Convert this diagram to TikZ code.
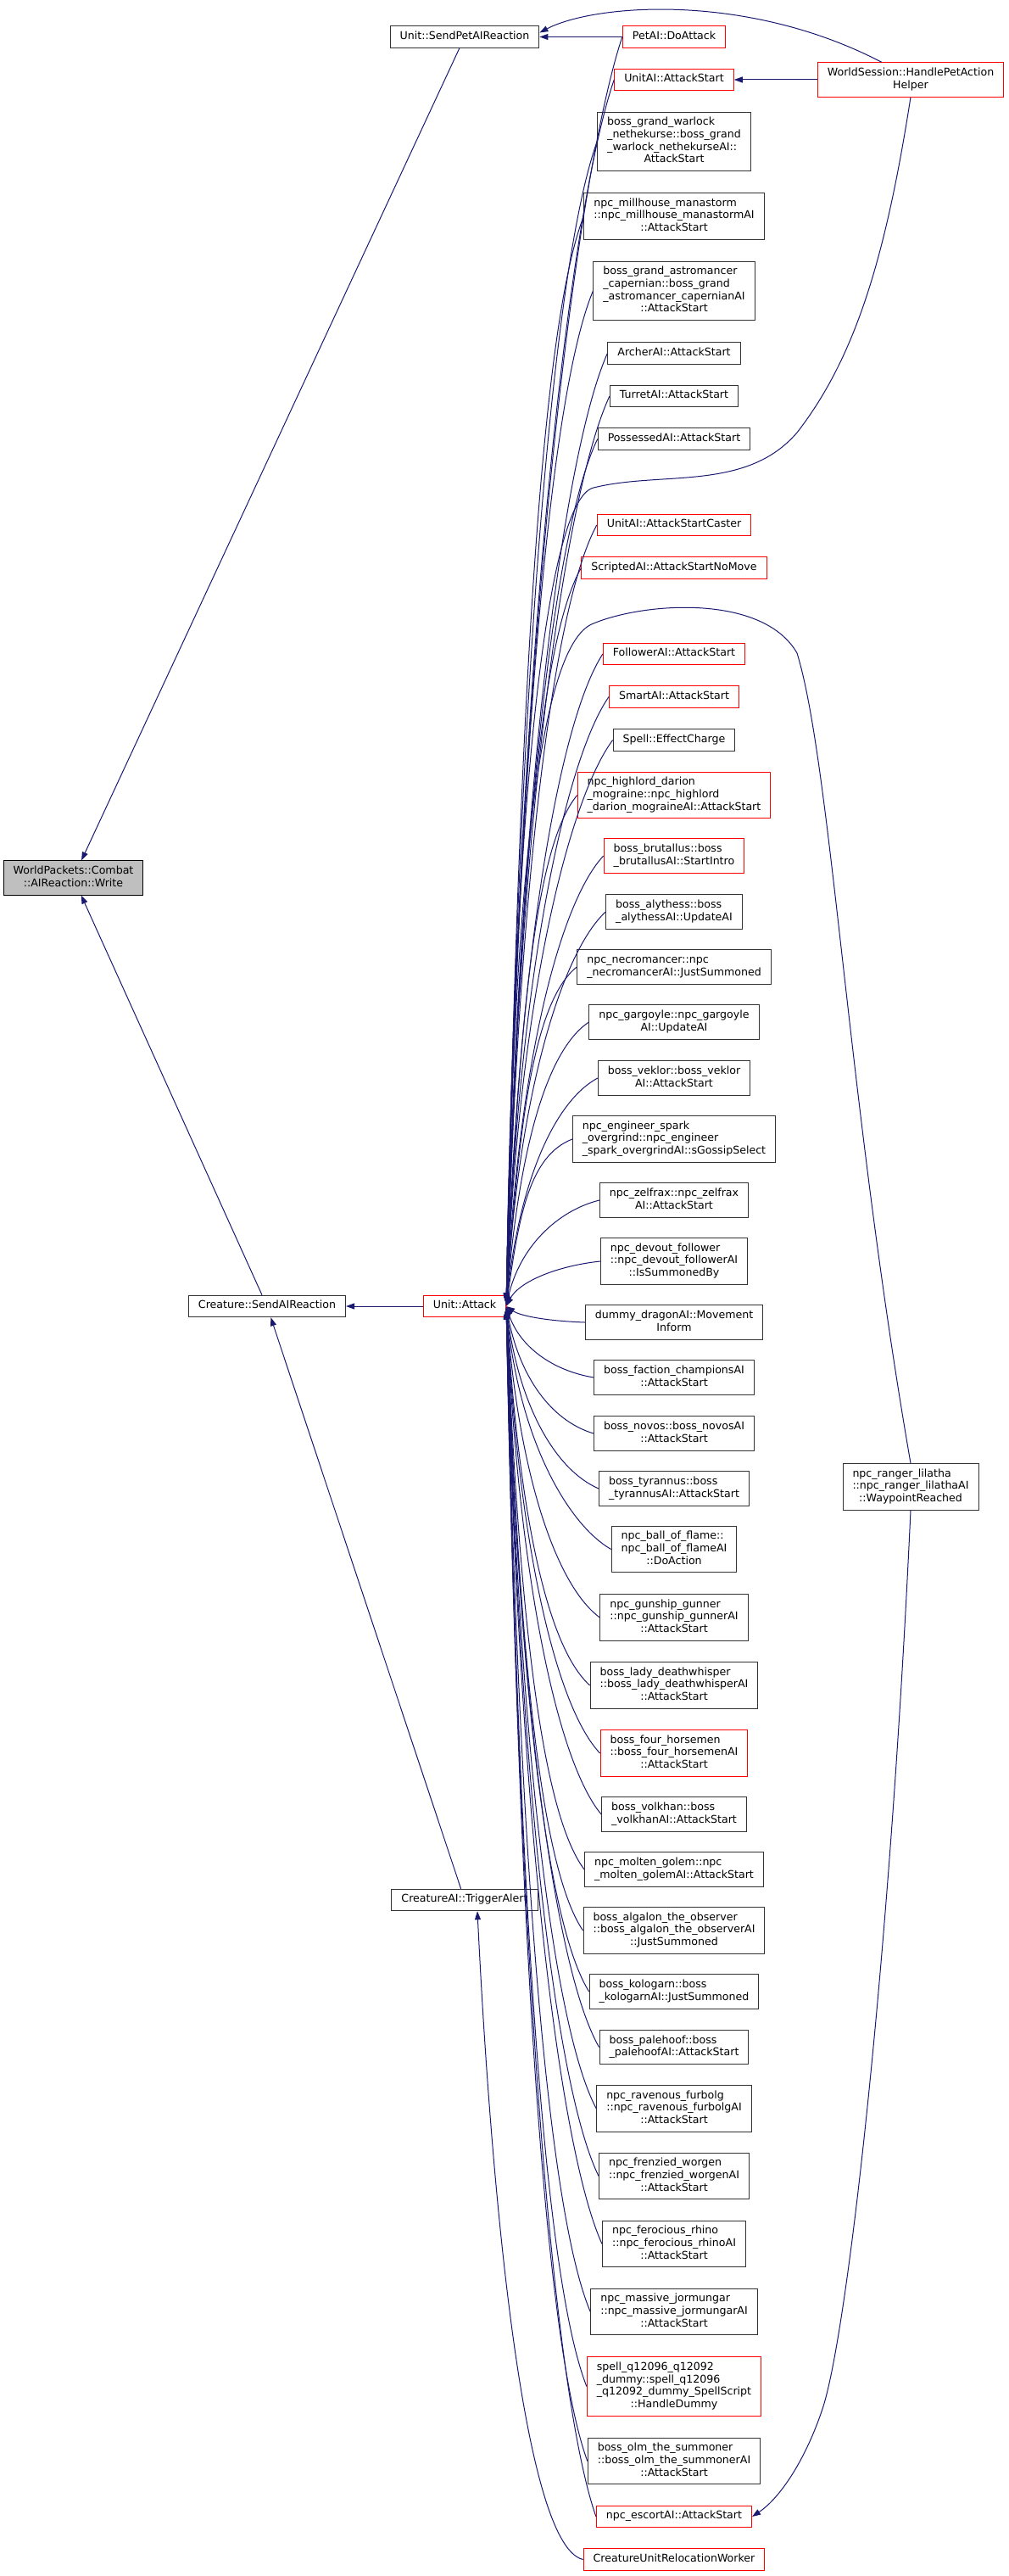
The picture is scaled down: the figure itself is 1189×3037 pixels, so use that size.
\documentclass[tikz,border=0pt]{standalone}
\usepackage{fontspec}
\setmainfont{DejaVu Sans}
\usetikzlibrary{arrows.meta,calc}
\newcommand{\lbl}[1]{\begin{tabular}{@{}l@{}}#1\end{tabular}}
\newcommand{\lastc}[1]{\multicolumn{1}{@{}c@{}}{#1}}
\definecolor{edgeblue}{HTML}{191970}
\definecolor{rootgrey}{HTML}{BFBFBF}
\tikzset{
  fn/.style={draw=black!80,line width=1pt,fill=white,inner xsep=11.5pt,inner ysep=5.35pt,
    font=\fontsize{12.6}{14.7}\selectfont},
  fnred/.style={fn,draw=red},
  fnroot/.style={fn,fill=rootgrey,draw=black},
  edge/.style={draw=edgeblue,line width=1pt,-{Triangle[length=10pt,width=7pt]}}
}
\begin{document}
\begin{tikzpicture}[x=1pt,y=-1pt]
\useasboundingbox (0,0) rectangle (1189,3037);
% left part
\node (write) at (86.5,1035) [fnroot] {\lbl{WorldPackets::Combat\\\lastc{::AIReaction::Write}}};
\node (spr) at (548,43.5) [fn] {\lbl{Unit::SendPetAIReaction}};
\node (csr) at (315,1540) [fn] {\lbl{Creature::SendAIReaction}};
\node (ua) at (548,1540) [fnred] {\lbl{Unit::Attack}};
\node (tra) at (548,2240) [fn] {\lbl{CreatureAI::TriggerAlert}};
% callers of Unit::Attack
\node (petai) at (795,43.5) [fnred] {\lbl{PetAI::DoAttack}};
\node (uaas) at (795,94) [fnred] {\lbl{UnitAI::AttackStart}};
\node (warlock) at (795,167) [fn] {\lbl{boss\_grand\_warlock\\\_nethekurse::boss\_grand\\\_warlock\_nethekurseAI::\\\lastc{AttackStart}}};
\node (millhouse) at (795,255) [fn] {\lbl{npc\_millhouse\_manastorm\\::npc\_millhouse\_manastormAI\\\lastc{::AttackStart}}};
\node (astro) at (795,343) [fn] {\lbl{boss\_grand\_astromancer\\\_capernian::boss\_grand\\\_astromancer\_capernianAI\\\lastc{::AttackStart}}};
\node (archer) at (795,416.5) [fn] {\lbl{ArcherAI::AttackStart}};
\node (turret) at (795,467) [fn] {\lbl{TurretAI::AttackStart}};
\node (possessed) at (795,517.5) [fn] {\lbl{PossessedAI::AttackStart}};
\node (caster) at (795,619) [fnred] {\lbl{UnitAI::AttackStartCaster}};
\node (nomove) at (795,669.5) [fnred] {\lbl{ScriptedAI::AttackStartNoMove}};
\node (follower) at (795,771) [fnred] {\lbl{FollowerAI::AttackStart}};
\node (smart) at (795,821.5) [fnred] {\lbl{SmartAI::AttackStart}};
\node (charge) at (795,872.5) [fn] {\lbl{Spell::EffectCharge}};
\node (darion) at (795,937.5) [fnred] {\lbl{npc\_highlord\_darion\\\_mograine::npc\_highlord\\\lastc{\_darion\_mograineAI::AttackStart}}};
\node (brutallus) at (795,1009) [fnred] {\lbl{boss\_brutallus::boss\\\lastc{\_brutallusAI::StartIntro}}};
\node (alythess) at (795,1075) [fn] {\lbl{boss\_alythess::boss\\\lastc{\_alythessAI::UpdateAI}}};
\node (necro) at (795,1140) [fn] {\lbl{npc\_necromancer::npc\\\lastc{\_necromancerAI::JustSummoned}}};
\node (gargoyle) at (795,1205) [fn] {\lbl{npc\_gargoyle::npc\_gargoyle\\\lastc{AI::UpdateAI}}};
\node (veklor) at (795,1271) [fn] {\lbl{boss\_veklor::boss\_veklor\\\lastc{AI::AttackStart}}};
\node (spark) at (795,1343) [fn] {\lbl{npc\_engineer\_spark\\\_overgrind::npc\_engineer\\\lastc{\_spark\_overgrindAI::sGossipSelect}}};
\node (zelfrax) at (795,1415) [fn] {\lbl{npc\_zelfrax::npc\_zelfrax\\\lastc{AI::AttackStart}}};
\node (devout) at (795,1487) [fn] {\lbl{npc\_devout\_follower\\::npc\_devout\_followerAI\\\lastc{::IsSummonedBy}}};
\node (dragon) at (795,1559) [fn] {\lbl{dummy\_dragonAI::Movement\\\lastc{Inform}}};
\node (faction) at (795,1624) [fn] {\lbl{boss\_faction\_championsAI\\\lastc{::AttackStart}}};
\node (novos) at (795,1690) [fn] {\lbl{boss\_novos::boss\_novosAI\\\lastc{::AttackStart}}};
\node (tyrannus) at (795,1755) [fn] {\lbl{boss\_tyrannus::boss\\\lastc{\_tyrannusAI::AttackStart}}};
\node (flame) at (795,1826.5) [fn] {\lbl{npc\_ball\_of\_flame::\\npc\_ball\_of\_flameAI\\\lastc{::DoAction}}};
\node (gunner) at (795,1907) [fn] {\lbl{npc\_gunship\_gunner\\::npc\_gunship\_gunnerAI\\\lastc{::AttackStart}}};
\node (lady) at (795,1987) [fn] {\lbl{boss\_lady\_deathwhisper\\::boss\_lady\_deathwhisperAI\\\lastc{::AttackStart}}};
\node (horsemen) at (795,2067) [fnred] {\lbl{boss\_four\_horsemen\\::boss\_four\_horsemenAI\\\lastc{::AttackStart}}};
\node (volkhan) at (795,2139) [fn] {\lbl{boss\_volkhan::boss\\\lastc{\_volkhanAI::AttackStart}}};
\node (golem) at (795,2204) [fn] {\lbl{npc\_molten\_golem::npc\\\lastc{\_molten\_golemAI::AttackStart}}};
\node (algalon) at (795,2276) [fn] {\lbl{boss\_algalon\_the\_observer\\::boss\_algalon\_the\_observerAI\\\lastc{::JustSummoned}}};
\node (kologarn) at (795,2348) [fn] {\lbl{boss\_kologarn::boss\\\lastc{\_kologarnAI::JustSummoned}}};
\node (palehoof) at (795,2413.5) [fn] {\lbl{boss\_palehoof::boss\\\lastc{\_palehoofAI::AttackStart}}};
\node (furbolg) at (795,2486) [fn] {\lbl{npc\_ravenous\_furbolg\\::npc\_ravenous\_furbolgAI\\\lastc{::AttackStart}}};
\node (worgen) at (795,2565.5) [fn] {\lbl{npc\_frenzied\_worgen\\::npc\_frenzied\_worgenAI\\\lastc{::AttackStart}}};
\node (rhino) at (795,2645.5) [fn] {\lbl{npc\_ferocious\_rhino\\::npc\_ferocious\_rhinoAI\\\lastc{::AttackStart}}};
\node (jormungar) at (795,2725.5) [fn] {\lbl{npc\_massive\_jormungar\\::npc\_massive\_jormungarAI\\\lastc{::AttackStart}}};
\node (spell) at (795,2813.5) [fnred] {\lbl{spell\_q12096\_q12092\\\_dummy::spell\_q12096\\\_q12092\_dummy\_SpellScript\\\lastc{::HandleDummy}}};
\node (olm) at (795,2901.5) [fn] {\lbl{boss\_olm\_the\_summoner\\::boss\_olm\_the\_summonerAI\\\lastc{::AttackStart}}};
\node (escort) at (795,2967) [fnred] {\lbl{npc\_escortAI::AttackStart}};
\node (reloc) at (795,3017.5) [fnred] {\lbl{CreatureUnitRelocationWorker}};
% right part
\node (ws) at (1074,94) [fnred] {\lbl{WorldSession::HandlePetAction\\\lastc{Helper}}};
\node (ranger) at (1074,1753) [fn] {\lbl{npc\_ranger\_lilatha\\::npc\_ranger\_lilathaAI\\\lastc{::WaypointReached}}};

% calls
\draw[edge] (spr) -- (write);
\draw[edge] (csr) -- (write);
\draw[edge] (ua) -- (csr);
\draw[edge] (tra) -- (csr);
\draw[edge] (petai) -- (spr);
\draw[edge] ($(ws.north)+(-34,0)$) .. controls (880,-10) and (700,5) .. ($(spr.east)+(0,-5)$);
\draw[edge] (ws) -- (uaas);
\foreach \n/\y in {petai/43.5,uaas/94,warlock/167,millhouse/255,astro/343,archer/416.5,turret/467,
    possessed/517.5,caster/619,nomove/669.5,follower/771,smart/821.5,charge/872.5,darion/937.5,
    brutallus/1009,alythess/1075,necro/1140,gargoyle/1205,veklor/1271,spark/1343,zelfrax/1415,
    devout/1487,dragon/1559,faction/1624,novos/1690,tyrannus/1755,flame/1826.5,gunner/1907,
    lady/1987,horsemen/2067,volkhan/2139,golem/2204,algalon/2276,kologarn/2348,palehoof/2413.5,
    furbolg/2486,worgen/2565.5,rhino/2645.5,jormungar/2725.5,spell/2813.5,olm/2901.5,escort/2967}
  \draw[edge] (\n.west) .. controls +(-50,{(1540-\y)*0.1}) and +(15,{(\y-1540)*0.55}) .. ($(ua.east)+(0,{(\y-1540)*0.004})$);
\draw[edge] (ws.south) .. controls (1045,300) and (1010,420) .. (940,510)
  .. controls (880,580) and (780,555) .. (700,575) .. controls (640,590) and (605,1000) .. ($(ua.east)+(0,-5)$);
\draw[edge] (ranger.north) .. controls (1000,1300) and (980,900) .. (940,770)
  .. controls (900,700) and (760,710) .. (700,735) .. controls (630,760) and (605,1100) .. ($(ua.east)+(0,-4)$);
\draw[edge] (ranger.south) .. controls (1050,2300) and (1000,2750) .. (970,2840)
  .. controls (950,2900) and (920,2945) .. (escort.east);
\draw[edge] (reloc.west) .. controls (610,3000) and (575,2500) .. ($(tra.south)+(15,0)$);
\end{tikzpicture}
\end{document}
